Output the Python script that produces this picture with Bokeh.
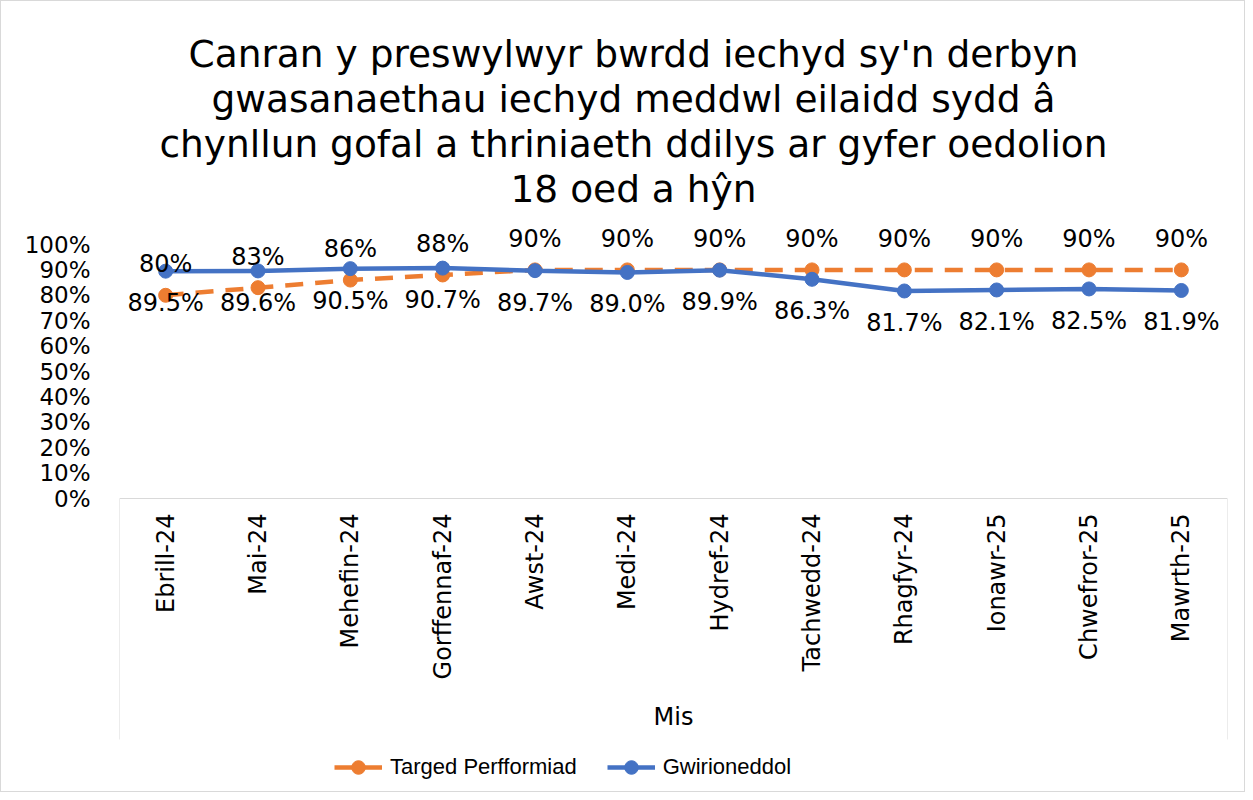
import math
from bokeh.plotting import figure
from bokeh.models import (FactorRange, Range1d, FixedTicker, NumeralTickFormatter,
                          Label, Legend, LegendItem, ColumnDataSource)
from bokeh.core.properties import value
from bokeh.embed import file_html
from bokeh.resources import INLINE

months = ["Ebrill-24", "Mai-24", "Mehefin-24", "Gorffennaf-24", "Awst-24", "Medi-24",
          "Hydref-24", "Tachwedd-24", "Rhagfyr-24", "Ionawr-25", "Chwefror-25", "Mawrth-25"]
target = [0.80, 0.83, 0.86, 0.88, 0.90, 0.90, 0.90, 0.90, 0.90, 0.90, 0.90, 0.90]
actual = [0.895, 0.896, 0.905, 0.907, 0.897, 0.890, 0.899, 0.863, 0.817, 0.821, 0.825, 0.819]
target_labels = ["80%", "83%", "86%", "88%", "90%", "90%", "90%", "90%", "90%", "90%", "90%", "90%"]
actual_labels = ["89.5%", "89.6%", "90.5%", "90.7%", "89.7%", "89.0%", "89.9%", "86.3%",
                 "81.7%", "82.1%", "82.5%", "81.9%"]
y_ticks = [0, 0.1, 0.2, 0.3, 0.4, 0.5, 0.6, 0.7, 0.8, 0.9, 1.0]
title_lines = ["Canran y preswylwyr bwrdd iechyd sy'n derbyn",
               "gwasanaethau iechyd meddwl eilaidd sydd \u00e2",
               "chynllun gofal a thriniaeth ddilys ar gyfer oedolion",
               "18 oed a h\u0177n"]
series_names = ["Targed Perfformiad", "Gwirioneddol"]
x_title = "Mis"

ORANGE = "#ED7D31"
BLUE = "#4472C4"
GREY = "#D9D9D9"
FONT = "DejaVu Sans"

W, H = 1245, 792
LEFT, RIGHT = 118, 19
Y0_PX, Y1_PX = 497, 243          # pixel rows of 0% and 100%
ppu = Y0_PX - Y1_PX              # pixels per unit (100%)
y_top = Y0_PX / ppu
y_bot = -(H - Y0_PX) / ppu
cat_w = (W - LEFT - RIGHT) / len(months)


def py(px):
    """pixel row -> data y"""
    return (Y0_PX - px) / ppu


src = ColumnDataSource(dict(m=months, t=target, a=actual, tl=target_labels, al=actual_labels))

p = figure(width=W, height=H, x_range=FactorRange(*months), y_range=Range1d(y_bot, y_top),
           output_backend="svg", toolbar_location=None,
           min_border_left=LEFT, min_border_right=RIGHT, min_border_top=0, min_border_bottom=0)
p.styles = {"border": "1px solid #d9d9d9"}
p.outline_line_color = None
p.xgrid.grid_line_color = None
p.ygrid.grid_line_color = None

# y axis
p.yaxis.ticker = FixedTicker(ticks=y_ticks)
p.yaxis.formatter = NumeralTickFormatter(format="0%")
p.yaxis.axis_line_color = None
p.yaxis.major_tick_line_color = None
p.yaxis.minor_tick_line_color = None
p.yaxis.major_label_standoff = 23
p.yaxis.major_label_text_font = FONT
p.yaxis.major_label_text_font_size = "23px"
p.yaxis.major_label_text_color = "#000000"

# x axis drawn at 0%
p.xaxis.fixed_location = 0
p.xaxis.axis_line_color = GREY
p.xaxis.major_tick_line_color = None
p.xaxis.minor_tick_line_color = None
p.xaxis.major_label_orientation = math.pi / 2
p.xaxis.major_label_standoff = 9
p.xaxis.major_label_text_font = FONT
p.xaxis.major_label_text_font_size = "24px"
p.xaxis.major_label_text_color = "#000000"
p.xaxis.axis_label = x_title
p.xaxis.axis_label_text_font = FONT
p.xaxis.axis_label_text_font_size = "24px"
p.xaxis.axis_label_text_font_style = "normal"
p.xaxis.axis_label_text_color = "#000000"
p.xaxis.axis_label_standoff = 21

# category box lines below the axis
p.segment(x0=[0, len(months)], y0=[0, 0], x1=[0, len(months)], y1=[py(738), py(738)],
          line_color=GREY, line_width=1)

# series
tl = p.line("m", "t", source=src, line_color=ORANGE, line_width=4.5, line_dash="18 12")
ts = p.scatter("m", "t", source=src, size=14, fill_color=ORANGE, line_color=ORANGE)
al = p.line("m", "a", source=src, line_color=BLUE, line_width=4.5)
as_ = p.scatter("m", "a", source=src, size=14, fill_color=BLUE, line_color=BLUE)

p.text("m", "t", text="tl", source=src, text_align="center", text_baseline="middle",
       y_offset=-31, text_font=value(FONT), text_font_size="24px", text_color="#000000")
p.text("m", "a", text="al", source=src, text_align="center", text_baseline="middle",
       y_offset=32, text_font=value(FONT), text_font_size="24px", text_color="#000000")

# title (four centred lines)
title_x = (632 - LEFT) / cat_w
for line, row in zip(title_lines, [52, 97, 142, 187]):
    p.add_layout(Label(x=title_x, y=py(row), text=line, text_align="center",
                       text_baseline="middle", text_font=FONT, text_font_size="37.5px",
                       text_color="#000000"))

legend = Legend(items=[LegendItem(label=series_names[0], renderers=[tl, ts]),
                       LegendItem(label=series_names[1], renderers=[al, as_])],
                location=(333 - LEFT, H - 783), orientation="horizontal",
                glyph_width=48, glyph_height=34, label_standoff=8, spacing=30,
                padding=0, margin=0, border_line_color=None, background_fill_alpha=0,
                label_text_font="Liberation Sans", label_text_font_size="22px",
                label_text_color="#000000")
p.add_layout(legend)

open("out.html", "w").write(file_html(p, INLINE))
